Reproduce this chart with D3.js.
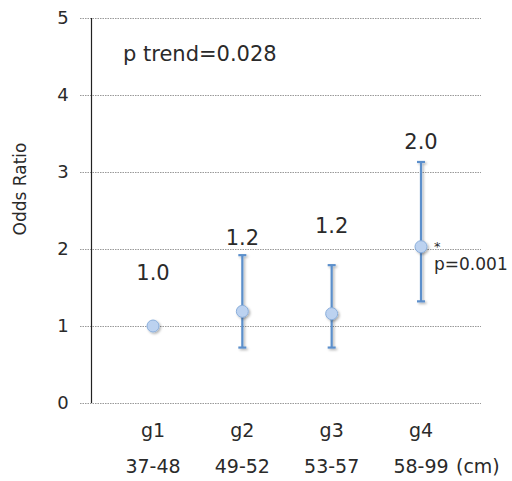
<!DOCTYPE html>
<html><head><meta charset="utf-8">
<script src="https://cdn.jsdelivr.net/npm/d3@7"></script>
<style>body{margin:0;background:#fff;} text{font-family:"DejaVu Sans",Verdana,sans-serif;fill:#2a2a2a;}</style>
</head><body><svg id="c" width="512" height="481"></svg>
<script>
const groups = ["g1","g2","g3","g4"];
const ranges = ["37-48","49-52","53-57","58-99"];
const oddsRatio = [1.0, 1.19, 1.16, 2.03];
const ciLower = [null, 0.72, 0.72, 1.32];
const ciUpper = [null, 1.92, 1.79, 3.13];
const labels = ["1.0","1.2","1.2","2.0"];
const yTicks = [0,1,2,3,4,5];

const svg = d3.select("#c");
const x = d3.scalePoint().domain(groups).range([153, 421]);
const y = d3.scaleLinear().domain([0,5]).range([403, 18]);

const defs = svg.append("defs");
const f = defs.append("filter").attr("id","sh").attr("x","-50%").attr("y","-50%").attr("width","200%").attr("height","200%");
f.append("feDropShadow").attr("dx",1.5).attr("dy",1.5).attr("stdDeviation",1.2).attr("flood-color","#000").attr("flood-opacity",0.3);

// grid lines
svg.append("g").selectAll("line").data(yTicks).join("line")
  .attr("x1",80).attr("x2",481).attr("y1",d=>y(d)+0.5).attr("y2",d=>y(d)+0.5)
  .attr("stroke","#999").attr("stroke-width",1).attr("stroke-dasharray","1.5,1");
// y axis
const yAxis = d3.axisLeft(y).tickValues(yTicks).tickSize(0).tickPadding(0).tickFormat(d3.format("d"));
const ga = svg.append("g").attr("transform","translate(91,0)").call(yAxis);
ga.select(".domain").remove();
ga.selectAll("text").attr("x",-28).attr("text-anchor","middle").attr("font-size",18).attr("fill","#2a2a2a");
svg.append("line").attr("x1",91.5).attr("x2",91.5).attr("y1",y(5)).attr("y2",y(0)).attr("stroke","#222").attr("stroke-width",1.2);

svg.append("text").attr("transform","translate(26,189) rotate(-90)").attr("text-anchor","middle").attr("font-size",17).text("Odds Ratio");
svg.append("text").attr("x",123).attr("y",61).attr("font-size",21).text("p trend=0.028");

// x labels
const gx = svg.append("g");
gx.selectAll("text.g").data(groups).join("text").attr("class","g")
  .attr("x",d=>x(d)).attr("y",437).attr("text-anchor","middle").attr("font-size",19).text(d=>d);
gx.selectAll("text.r").data(ranges).join("text").attr("class","r")
  .attr("x",(d,i)=>x(groups[i])).attr("y",473).attr("text-anchor","middle").attr("font-size",19).text(d=>d);
svg.append("text").attr("x",456).attr("y",473).attr("font-size",19).text("(cm)");

// error bars
const idx = d3.range(groups.length).filter(i=>ciLower[i]!=null);
const eb = svg.append("g").attr("stroke","#5b8fcb").attr("stroke-width",2.2).attr("filter","url(#sh)");
eb.selectAll("line.v").data(idx).join("line").attr("class","v")
  .attr("x1",i=>x(groups[i])).attr("x2",i=>x(groups[i])).attr("y1",i=>y(ciLower[i])).attr("y2",i=>y(ciUpper[i]));
eb.selectAll("line.lo").data(idx).join("line").attr("class","lo")
  .attr("x1",i=>x(groups[i])-4).attr("x2",i=>x(groups[i])+4).attr("y1",i=>y(ciLower[i])).attr("y2",i=>y(ciLower[i]));
eb.selectAll("line.hi").data(idx).join("line").attr("class","hi")
  .attr("x1",i=>x(groups[i])-4).attr("x2",i=>x(groups[i])+4).attr("y1",i=>y(ciUpper[i])).attr("y2",i=>y(ciUpper[i]));

// points
svg.append("g").selectAll("circle").data(oddsRatio).join("circle")
  .attr("cx",(d,i)=>x(groups[i])).attr("cy",d=>y(d)).attr("r",6)
  .attr("fill","#bcd2f0").attr("stroke","#8aaedb").attr("stroke-width",1).attr("filter","url(#sh)");

// value labels
const labelY = [1.6, 2.05, 2.21, 3.3];
svg.append("g").selectAll("text").data(labels).join("text")
  .attr("x",(d,i)=>x(groups[i])).attr("y",(d,i)=>y(labelY[i])).attr("text-anchor","middle").attr("font-size",21).text(d=>d);

svg.append("text").attr("x",434).attr("y",251).attr("font-size",13).text("*");
svg.append("text").attr("x",434).attr("y",270).attr("font-size",17).text("p=0.001");
</script></body></html>
